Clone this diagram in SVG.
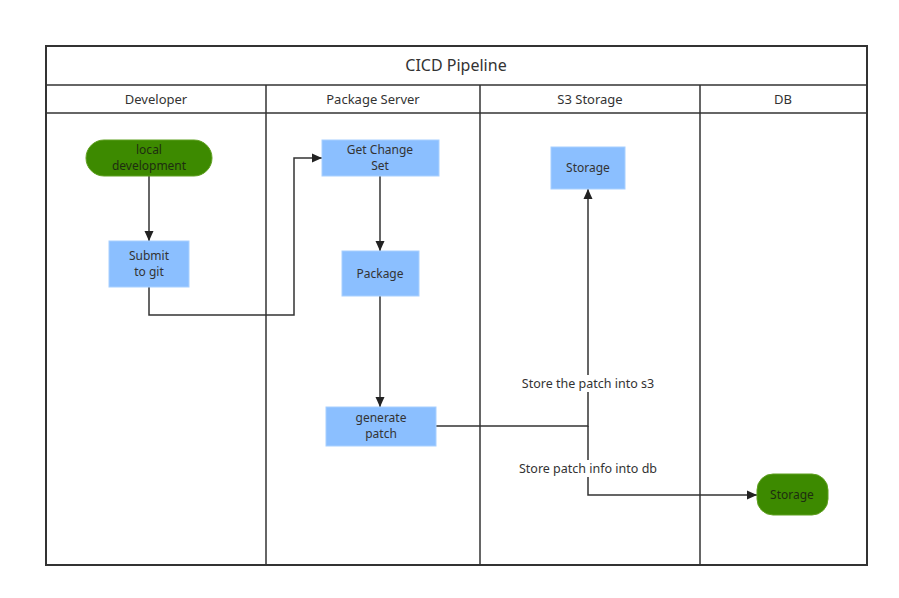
<svg xmlns="http://www.w3.org/2000/svg" width="899" height="598" viewBox="0 0 899 598">
<style>
text{font-family:"Noto Sans","Open Sans","DejaVu Sans",sans-serif;fill:#333;text-anchor:middle}
.frame{fill:none;stroke:#333;stroke-width:2}
.lane{stroke:#333;stroke-width:1.5}
.blue{fill:#8bbfff;stroke:#a8d0ff;stroke-width:1}
.green{fill:#3d8a00;stroke:#5fa020;stroke-width:1}
.t{font-size:12px}
.gt{font-size:12px;fill:#1d2e10}
.conn{fill:none;stroke:#333;stroke-width:1.5}
.lbl{font-size:12.5px;fill:#333}
</style>
<defs>
<marker id="arr" markerWidth="10" markerHeight="10" refX="10" refY="5" orient="auto" markerUnits="userSpaceOnUse">
<path d="M0,0.5 L10,5 L0,9.5 Z" fill="#222"/>
</marker>
</defs>
<rect x="0" y="0" width="899" height="598" fill="#fff"/>
<g id="pool">
<rect class="frame" x="46" y="46" width="821" height="519"/>
<line class="lane" x1="46" y1="85" x2="867" y2="85"/>
<line class="lane" x1="46" y1="113" x2="867" y2="113"/>
<line class="lane" x1="266" y1="85" x2="266" y2="565"/>
<line class="lane" x1="480" y1="85" x2="480" y2="565"/>
<line class="lane" x1="700" y1="85" x2="700" y2="565"/>
<text x="456" y="71" style="font-size:16px">CICD Pipeline</text>
<text x="156" y="104" style="font-size:13px">Developer</text>
<text x="373" y="104" style="font-size:13px">Package Server</text>
<text x="590" y="104" style="font-size:13px">S3 Storage</text>
<text x="783" y="104" style="font-size:13px">DB</text>
</g>
<g id="connectors">
<path class="conn" d="M149,176 V241" marker-end="url(#arr)"/>
<path class="conn" d="M149,287 V315 H294 V158 H322" marker-end="url(#arr)"/>
<path class="conn" d="M380,176 V251" marker-end="url(#arr)"/>
<path class="conn" d="M380,296 V407" marker-end="url(#arr)"/>
<path class="conn" d="M436,426 H588 V189" marker-end="url(#arr)"/>
<path class="conn" d="M588,426 V495 H757" marker-end="url(#arr)"/>
<rect x="514" y="375" width="148" height="17" fill="#fff"/>
<text class="lbl" x="588" y="388">Store the patch into s3</text>
<rect x="510" y="460" width="156" height="17" fill="#fff"/>
<text class="lbl" x="588" y="473">Store patch info into db</text>
</g>
<g id="local-development">
<rect class="green" x="86" y="140" width="126" height="36" rx="18"/>
<text class="gt" x="149" y="154">local</text>
<text class="gt" x="149" y="170">development</text>
</g>
<g id="submit-to-git">
<rect class="blue" x="109" y="241" width="80" height="46"/>
<text class="t" x="149" y="260">Submit</text>
<text class="t" x="149" y="276">to git</text>
</g>
<g id="get-change-set">
<rect class="blue" x="322" y="140" width="117" height="36"/>
<text class="t" x="380" y="154">Get Change</text>
<text class="t" x="380" y="170">Set</text>
</g>
<g id="package">
<rect class="blue" x="342" y="251" width="77" height="45"/>
<text class="t" x="380" y="278">Package</text>
</g>
<g id="generate-patch">
<rect class="blue" x="326" y="407" width="110" height="39"/>
<text class="t" x="381" y="422">generate</text>
<text class="t" x="381" y="438">patch</text>
</g>
<g id="s3-storage">
<rect class="blue" x="551" y="147" width="74" height="42"/>
<text class="t" x="588" y="172">Storage</text>
</g>
<g id="db-storage">
<rect class="green" x="757" y="474" width="71" height="41" rx="16"/>
<text class="gt" x="792" y="499">Storage</text>
</g>
</svg>
